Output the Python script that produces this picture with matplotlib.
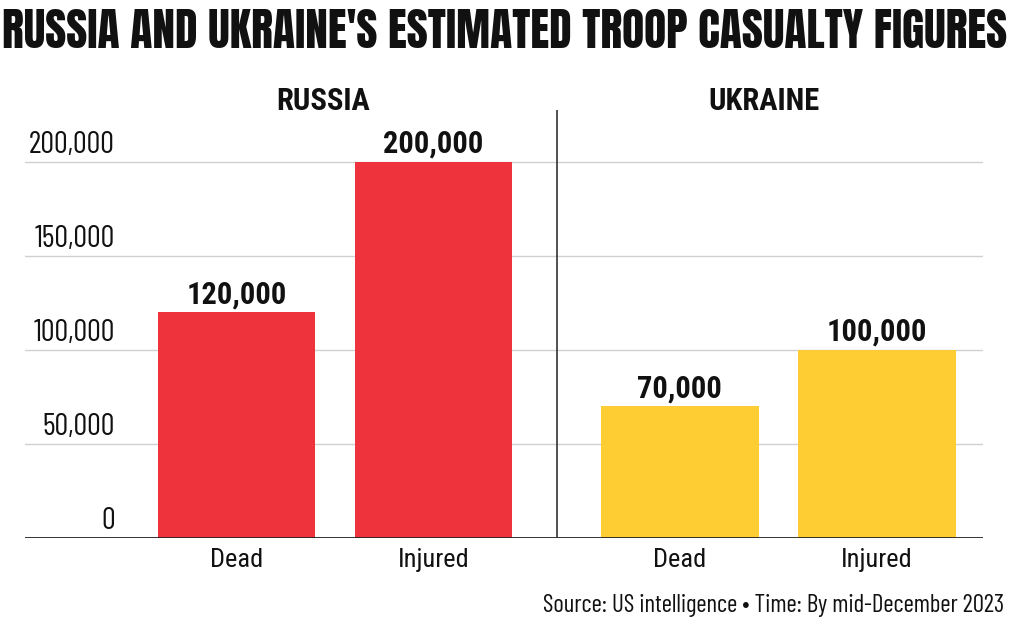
import matplotlib
matplotlib.use('Agg')
import matplotlib.pyplot as plt

# Données
categories = ['Dead', 'Injured', 'Dead', 'Injured']
countries = ['RUSSIA', 'UKRAINE']
casualties = [120000, 200000, 70000, 100000]
bar_colors = ['#EE333C', '#EE333C', '#FECD34', '#FECD34']
y_ticks = [0, 50000, 100000, 150000, 200000]

positions = [0, 1, 2.25, 3.25]
title_font = 'Anton'
cond_font = 'Barlow Condensed'
rob_font = 'Roboto Condensed'

fig = plt.figure(figsize=(10.1, 6.22), dpi=100)
ax = fig.add_axes([25 / 1010, 84 / 622, 958 / 1010, 428 / 622])

ax.bar(positions, casualties, width=0.8, color=bar_colors, zorder=2)
ax.set_xlim(-1.074, 3.789)
ax.set_ylim(0, 227660)

# grille et ligne de base
for v in y_ticks[1:]:
    ax.axhline(v, color='#d0d0d0', lw=1, zorder=1)
ax.axhline(0, color='#222222', lw=2, zorder=3)
ax.axvline((positions[1] + positions[2]) / 2, color='#333333', lw=1.2, zorder=3)

for s in ax.spines.values():
    s.set_visible(False)
ax.set_yticks([])
ax.set_xticks(positions)
ax.set_xticklabels(categories, family=rob_font, fontsize=19, color='#111111')
ax.tick_params(axis='x', length=0, pad=7)

# étiquettes de l'axe y au-dessus des lignes
for v in y_ticks:
    ax.annotate(f'{v:,}', xy=(0.094, v), xycoords=('axes fraction', 'data'),
                xytext=(0, 6.5), textcoords='offset points', ha='right', va='baseline',
                family=cond_font, fontsize=22, color='#111111')

# valeurs sur les barres
for x, v in zip(positions, casualties):
    ax.annotate(f'{v:,}', xy=(x, v), xytext=(0, 6.5), textcoords='offset points',
                ha='center', va='baseline', family=rob_font, weight='bold',
                fontsize=22, color='#111111')

# titres
fig.text(0.5, 0.923, "RUSSIA AND UKRAINE'S ESTIMATED TROOP CASUALTY FIGURES",
         ha='center', va='baseline', family=title_font, fontsize=32.8, color='#111111')
fig.text(323 / 1010, 0.823, countries[0], ha='center', va='baseline',
         family=rob_font, weight='bold', fontsize=22, color='#111111')
fig.text(764 / 1010, 0.823, countries[1], ha='center', va='baseline',
         family=rob_font, weight='bold', fontsize=22, color='#111111')
fig.text(1004 / 1010, 0.016, 'Source: US intelligence \u2022 Time: By mid-December 2023',
         ha='right', va='baseline', family=cond_font, fontsize=18, color='#111111')

fig.savefig('out.png', dpi=100)
